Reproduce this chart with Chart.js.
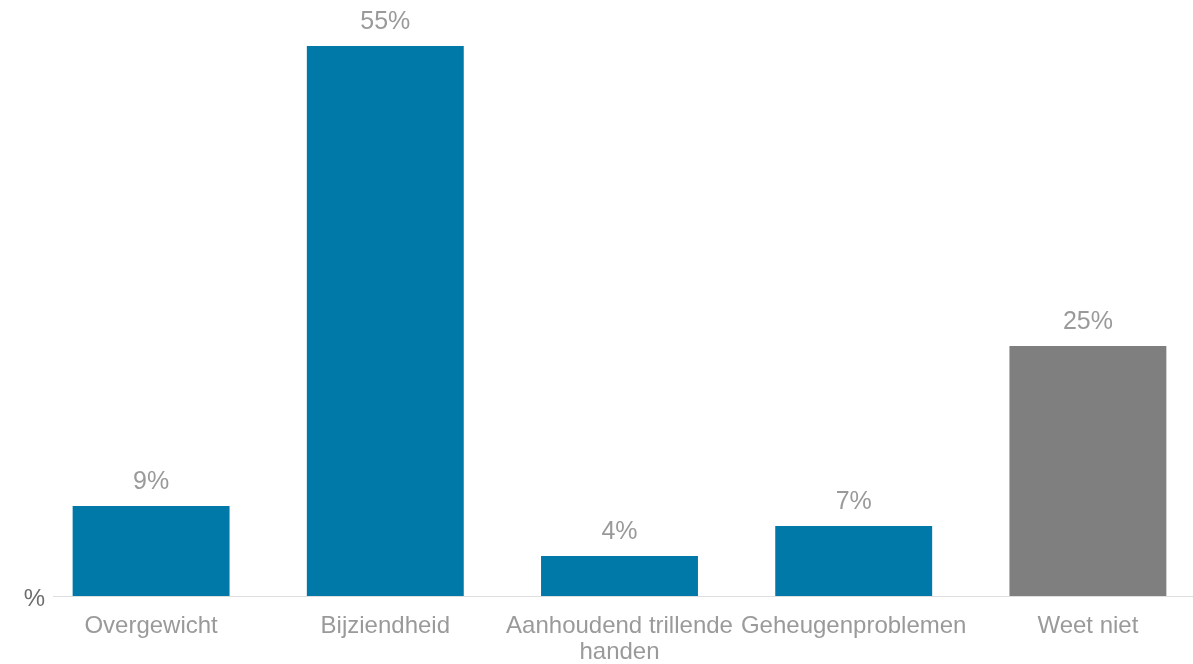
<!DOCTYPE html>
<html lang="nl">
<head>
<meta charset="UTF-8">
<script src="https://cdn.jsdelivr.net/npm/chart.js"></script>
<title>Aandoeningen</title>
<style>
  html, body { margin: 0; padding: 0; background: #fff; overflow: hidden; }
  #wrap { position: relative; width: 1205px; height: 664px; }
</style>
</head>
<body>
<div id="wrap"><canvas id="chart"></canvas></div>
<script>
// categories and values
const categories = [
    'Overgewicht',
    'Bijziendheid',
    ['Aanhoudend trillende', 'handen'],
    'Geheugenproblemen',
    'Weet niet'
];
const values = [9, 55, 4, 7, 25];
const barColors = ['#0079a8', '#0079a8', '#0079a8', '#0079a8', '#7f7f7f'];
const yUnit = '%';

const FONT = '"Liberation Sans", Arial, Helvetica, sans-serif';

// percentage above each bar
const valueLabels = {
    id: 'valueLabels',
    afterDatasetsDraw(chart) {
        const ctx = chart.ctx;
        const meta = chart.getDatasetMeta(0);
        ctx.save();
        ctx.font = '25px ' + FONT;
        ctx.fillStyle = '#9a9a9a';
        ctx.textAlign = 'center';
        ctx.textBaseline = 'alphabetic';
        meta.data.forEach((bar, i) => {
            ctx.fillText(values[i] + '%', bar.x, bar.y - 17);
        });
        ctx.restore();
    }
};

// light baseline under the bars, with the unit to its left
const baseline = {
    id: 'baseline',
    beforeDatasetsDraw(chart) {
        const ctx = chart.ctx;
        const y = Math.round(chart.scales.y.getPixelForValue(0)) + 0.5;
        ctx.save();
        ctx.strokeStyle = '#dedede';
        ctx.lineWidth = 1;
        ctx.beginPath();
        ctx.moveTo(53, y);
        ctx.lineTo(chart.width, y);
        ctx.stroke();
        ctx.font = '24px ' + FONT;
        ctx.fillStyle = '#6e6e6e';
        ctx.textAlign = 'right';
        ctx.textBaseline = 'middle';
        ctx.fillText(yUnit, 45, y + 3);
        ctx.restore();
    }
};

new Chart(document.getElementById('chart'), {
    type: 'bar',
    data: {
        labels: categories,
        datasets: [{
            data: values,
            backgroundColor: barColors,
            borderWidth: 0,
            categoryPercentage: 1,
            barPercentage: 0.67
        }]
    },
    options: {
        responsive: true,
        maintainAspectRatio: false,
        animation: false,
        layout: { padding: { top: 16, right: 0, bottom: 0, left: 0 } },
        plugins: {
            legend: { display: false },
            tooltip: { enabled: false }
        },
        scales: {
            x: {
                grid: { display: false, drawTicks: false },
                border: { display: false },
                ticks: {
                    color: '#9a9a9a',
                    font: { family: FONT, size: 24, lineHeight: 1.09 },
                    padding: 17,
                    autoSkip: false,
                    maxRotation: 0
                },
                afterFit(scale) { scale.height = 68; }
            },
            y: {
                display: false,
                min: 0,
                max: 58,
                afterFit(scale) { scale.width = 34; }
            }
        }
    },
    plugins: [baseline, valueLabels]
});
</script>
</body>
</html>
